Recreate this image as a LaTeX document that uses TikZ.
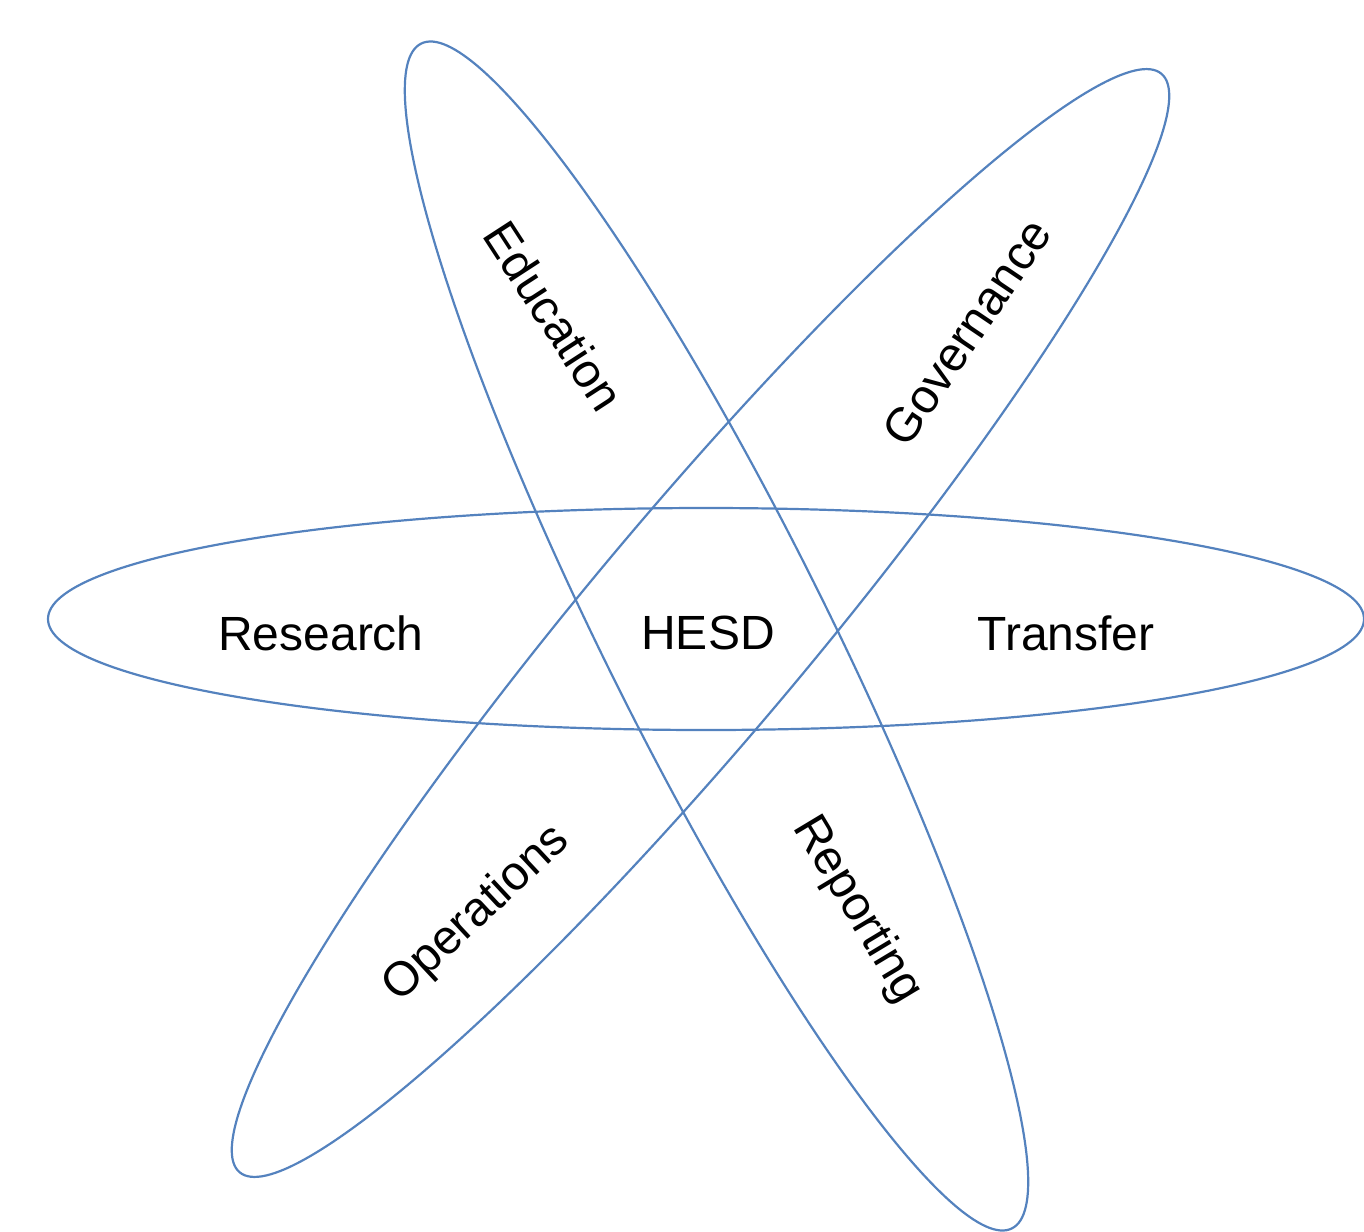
\documentclass[tikz,border=0pt]{standalone}
\usepackage{fontspec}
\setmainfont{Liberation Sans}
\usepackage{xcolor}
\definecolor{orbitblue}{RGB}{84,130,190}

\begin{document}
\begin{tikzpicture}[x=0.5pt,y=-0.5pt,
    ring/.style={draw=orbitblue,line width=1.1pt},
    ringtext/.style={font=\fontsize{24}{28}\selectfont,inner sep=0pt}]
  \useasboundingbox (0,0) rectangle (1364,1231);
  % the three rings
  \draw[ring] (706,619) ellipse [x radius=658,y radius=111];
  \draw[ring,rotate around={-63.5:(716.5,636)}] (716.5,636) ellipse [x radius=662,y radius=111];
  \draw[ring,rotate around={50:(700.5,623)}] (700.5,623) ellipse [x radius=717,y radius=111];
  % labels
  \node[ringtext] (hesd) at (708,633) {HESD};
  \node[ringtext] (research) at (321,633) {Research};
  \node[ringtext] (transfer) at (1066,633) {Transfer};
  \node[ringtext,rotate=-57] (education) at (554,316) {Education};
  \node[ringtext,rotate=56] (governance) at (967,332) {Governance};
  \node[ringtext,rotate=43] (operations) at (477,914) {Operations};
  \node[ringtext,rotate=-59] (reporting) at (857,910) {Reporting};
\end{tikzpicture}
\end{document}
